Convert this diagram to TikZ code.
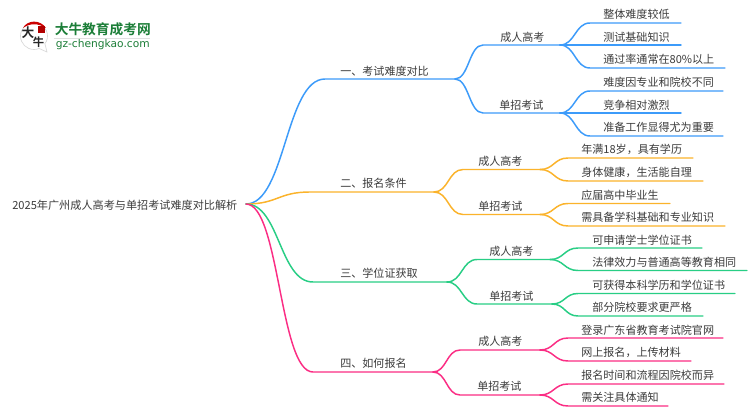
\documentclass[tikz,border=0pt]{standalone}
\usepackage{fontspec}
\setmainfont{Noto Sans CJK SC}
\newfontfamily\boldcjk{Noto Sans CJK SC Bold}
\newfontfamily\latinf{DejaVu Sans}
\usetikzlibrary{calc}
\definecolor{cblue}{HTML}{3C9BFA}
\definecolor{corange}{HTML}{FBB32B}
\definecolor{cgreen}{HTML}{28CE85}
\definecolor{cpink}{HTML}{FB2D84}
\definecolor{ctext}{HTML}{3C3C3C}
\definecolor{logog}{HTML}{1C7E38}
\tikzset{x=0.75pt,y=-0.75pt,
 lab/.style={anchor=base west,inner sep=0pt,yshift=-0.6pt,text=ctext,font=\fontsize{8.3pt}{10pt}\selectfont},
 wire/.style={line width=1.1pt,line cap=round}}
\newcommand{\branch}[6]{% colour, start, x1, y, x2, name
 \coordinate (E) at (#3,#4);
 \coordinate (M) at ($(#2)!0.5!(E)$);
 \draw[wire,#1] (#2) .. controls (M |- #2) and (M |- E) .. (E) -- (#5,#4) coordinate (#6);}
\begin{document}
\begin{tikzpicture}
\useasboundingbox (0,0) rectangle (750,410);
\fill[white] (0,0) rectangle (750,410);
% logo
\fill[white,draw=black!15,line width=0.5pt] (34,36) circle (13.5);
\fill[white,draw=black!15,line width=0.5pt] (38,48) -- (47,52) -- (45,44);
\fill[white] (37,45) -- (45,50) -- (44,42) -- cycle;
\fill[red!80!black] (23,28) .. controls (27,20) and (40,19) .. (46,28) .. controls (38,23) and (30,23) .. (23,28) -- cycle;
\fill[red!70!black] (38,26) rectangle (44.5,33);
\node[inner sep=0pt,font=\fontsize{9.5pt}{10pt}\boldcjk,text=black!85] (lg1) at (28,33) {大};
\node[inner sep=0pt,font=\fontsize{8.5pt}{9pt}\boldcjk,text=black!85] (lg2) at (38.5,42) {牛};
\node[anchor=west,inner sep=0pt,font=\fontsize{10.3pt}{11pt}\boldcjk,text=logog] (lgt) at (54.5,29.5) {大牛教育成考网};
\draw[black!12,line width=0.6pt] (54,38.5) -- (150,38.5);
\node[anchor=west,inner sep=0pt,font=\fontsize{8pt}{8pt}\latinf,text=logog] (lgu) at (55.5,45) {gz-chengkao.com};
% root
\node[lab,font=\fontsize{8.35pt}{10pt}\selectfont] (root) at (12,209) {2025年广州成人高考与单招考试难度对比解析};
\coordinate (r) at (246,204);
% level 1
\branch{cblue}{r}{325}{79}{455}{a}
\branch{corange}{r}{310}{192}{434}{b}
\branch{cgreen}{r}{313}{282}{447}{c}
\branch{cpink}{r}{313}{372}{433}{d}
% level 2
\branch{cblue}{a}{483}{45}{560}{a1}
\branch{cblue}{a}{483}{113}{560}{a2}
\branch{corange}{b}{463}{169.5}{540}{b1}
\branch{corange}{b}{463}{214.5}{540}{b2}
\branch{cgreen}{c}{477}{259.5}{550}{c1}
\branch{cgreen}{c}{477}{304}{552}{c2}
\branch{cpink}{d}{460}{350}{540}{d1}
\branch{cpink}{d}{460}{395}{540}{d2}
% level 3
\branch{cblue}{a1}{590}{23}{681}{a11}
\branch{cblue}{a1}{590}{45}{681}{a12}
\branch{cblue}{a1}{590}{68}{725}{a13}
\branch{cblue}{a2}{590}{91}{723}{a21}
\branch{cblue}{a2}{590}{113}{681}{a22}
\branch{cblue}{a2}{590}{136}{723}{a23}
\branch{corange}{b1}{568}{158}{693}{b11}
\branch{corange}{b1}{568}{181}{703}{b12}
\branch{corange}{b2}{568}{203.5}{670}{b21}
\branch{corange}{b2}{568}{226}{725}{b22}
\branch{cgreen}{c1}{578}{248}{702}{c11}
\branch{cgreen}{c1}{578}{270.5}{747}{c12}
\branch{cgreen}{c2}{578}{293.5}{735}{c21}
\branch{cgreen}{c2}{578}{316}{703}{c22}
\branch{cpink}{d1}{568}{338}{723}{d11}
\branch{cpink}{d1}{568}{361}{691}{d12}
\branch{cpink}{d2}{568}{384}{724}{d21}
\branch{cpink}{d2}{568}{406}{668}{d22}
% labels
\node[lab] (A) at (340,75) {一、考试难度对比};
\node[lab] (B) at (340,187) {二、报名条件};
\node[lab] (C) at (340,277) {三、学位证获取};
\node[lab] (D) at (340,367) {四、如何报名};
\foreach \n/\x/\y/\t in {
 a1l/500/41/成人高考,a2l/499/109/单招考试,b1l/478/165/成人高考,b2l/478/210/单招考试,
 c1l/489/255/成人高考,c2l/489/300/单招考试,d1l/478/345/成人高考,d2l/477/390/单招考试,
 a11l/603/18/整体难度较低,a12l/603/41/测试基础知识,a13l/603/63/通过率通常在80\%以上,
 a21l/603/86/难度因专业和院校不同,a22l/603/109/竞争相对激烈,a23l/603/131/准备工作显得尤为重要,
 b11l/581/153/年满18岁，具有学历,b12l/581/176/身体健康，生活能自理,
 b21l/581/199/应届高中毕业生,b22l/581/221/需具备学科基础和专业知识,
 c11l/592/244/可申请学士学位证书,c12l/592/266/法律效力与普通高等教育相同,
 c21l/592/289/可获得本科学历和学位证书,c22l/592/311/部分院校要求更严格,
 d11l/581/334/登录广东省教育考试院官网,d12l/581/356/网上报名，上传材料,
 d21l/581/379/报名时间和流程因院校而异,d22l/581/401/需关注具体通知}
 {\node[lab] (\n) at (\x,\y) {\t};}
\end{tikzpicture}
\end{document}
